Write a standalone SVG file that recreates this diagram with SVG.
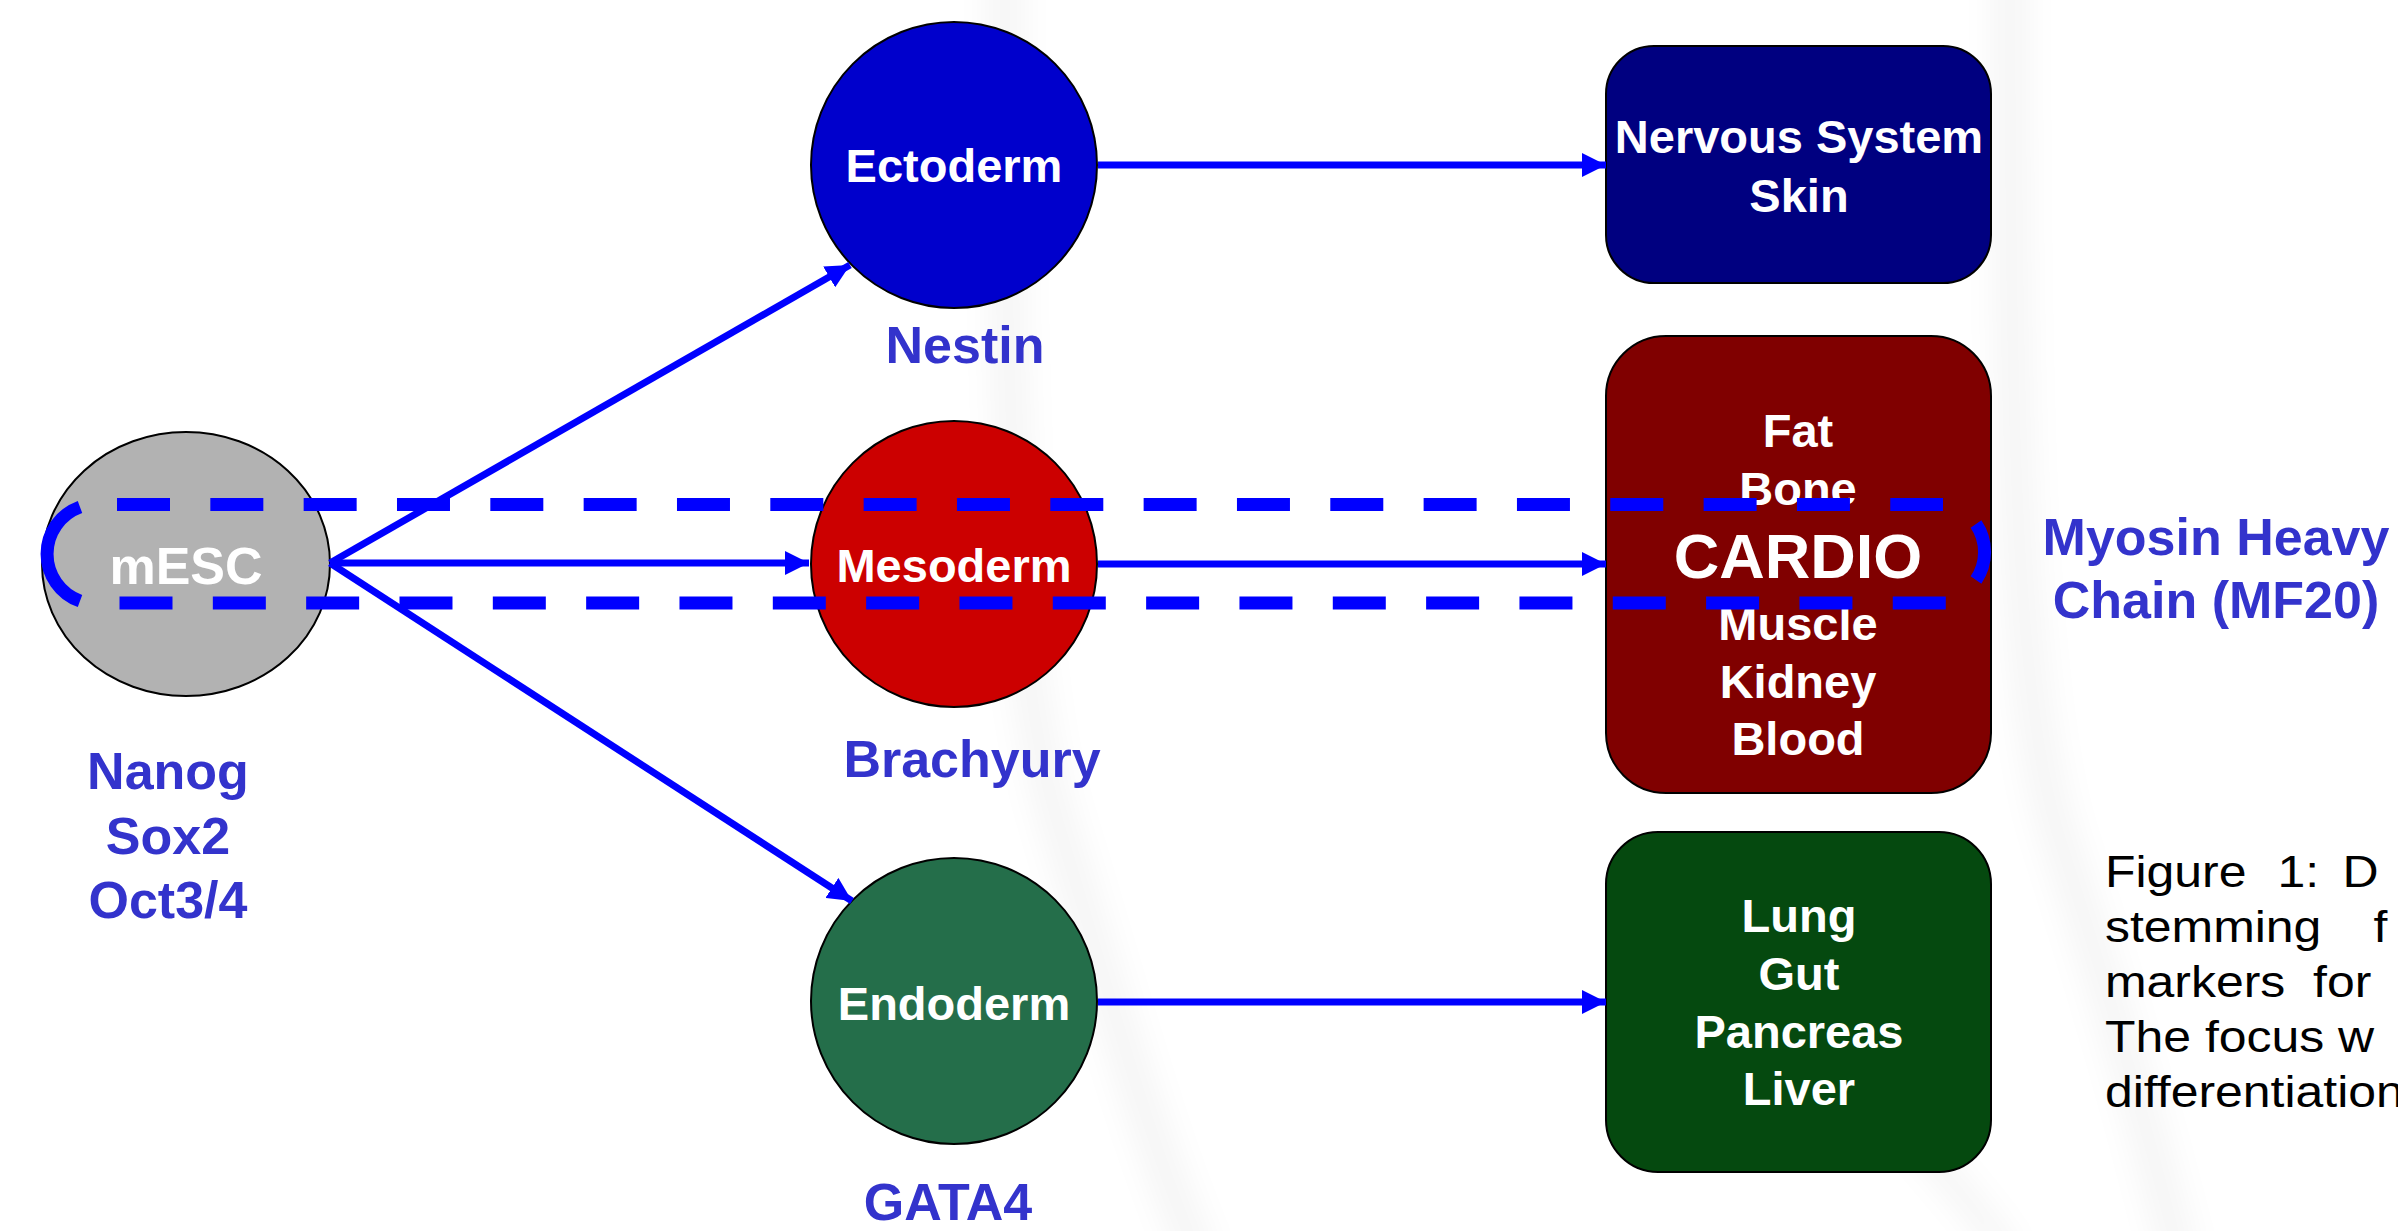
<svg xmlns="http://www.w3.org/2000/svg" width="2398" height="1231" viewBox="0 0 2398 1231">
<style>
  .b { font-family: "Liberation Sans", Arial, sans-serif; font-weight: bold; text-anchor: middle; }
  .w { fill: #FFFFFF; font-size: 47px; }
  .lbl { fill: #3333CC; font-size: 52px; }
  .cap { font-family: "Liberation Sans", Arial, sans-serif; font-size: 44px; fill: #000000; }
  .node { stroke: #000000; stroke-width: 2; }
  .conn { stroke: #0000FF; stroke-width: 7; fill: none; marker-end: url(#arrow); }
  .dash { stroke: #0000FF; stroke-width: 13; fill: none; }
  .band { fill: none; stroke: #000000; stroke-opacity: 0.035; filter: url(#soft); }
</style>
<defs>
  <marker id="arrow" markerUnits="userSpaceOnUse" markerWidth="24" markerHeight="24" refX="24" refY="12" orient="auto">
    <path d="M0,0 L24,12 L0,24 z" fill="#0000FF"/>
  </marker>
  <filter id="soft" x="-50%" y="-10%" width="200%" height="120%">
    <feGaussianBlur stdDeviation="14"/>
  </filter>
</defs>
<rect x="0" y="0" width="2398" height="1231" fill="#FFFFFF"/>
<g id="background">
  <path class="band" stroke-width="40" d="M1005 -20 C1005 500 1020 700 1060 830 S1150 1150 1200 1260"/>
  <path class="band" stroke-width="40" d="M2010 -20 C2010 400 2015 700 2060 840 S2140 1100 2180 1260"/>
  <path class="band" stroke-width="30" d="M1900 1120 C1940 1170 1980 1210 2010 1260"/>
</g>
<g id="nodes">
  <g id="mesc">
    <ellipse class="node" cx="186" cy="564" rx="144" ry="132" fill="#B2B2B2"/>
    <text class="b" x="186" y="584" fill="#FFFFFF" font-size="52">mESC</text>
  </g>
  <g id="ectoderm">
    <circle class="node" cx="954" cy="165" r="143" fill="#0000CC"/>
    <text class="b w" x="954" y="182">Ectoderm</text>
  </g>
  <g id="mesoderm">
    <circle class="node" cx="954" cy="564" r="143" fill="#CC0000"/>
    <text class="b w" x="954" y="582">Mesoderm</text>
  </g>
  <g id="endoderm">
    <circle class="node" cx="954" cy="1001" r="143" fill="#246E4A"/>
    <text class="b w" x="954" y="1020">Endoderm</text>
  </g>
  <g id="nervous">
    <rect class="node" x="1606" y="46" width="385" height="237" rx="48" ry="48" fill="#000080"/>
    <text class="b w" x="1799" y="153">Nervous System</text>
    <text class="b w" x="1799" y="212">Skin</text>
  </g>
  <g id="mesoderm-tissues">
    <rect class="node" x="1606" y="336" width="385" height="457" rx="60" ry="60" fill="#800000"/>
    <text class="b w" x="1798" y="447">Fat</text>
    <text class="b w" x="1798" y="505">Bone</text>
    <text class="b w" x="1798" y="640">Muscle</text>
    <text class="b w" x="1798" y="698">Kidney</text>
    <text class="b w" x="1798" y="755">Blood</text>
  </g>
  <g id="endoderm-tissues">
    <rect class="node" x="1606" y="832" width="385" height="340" rx="52" ry="52" fill="#05490F"/>
    <text class="b w" x="1799" y="932">Lung</text>
    <text class="b w" x="1799" y="990">Gut</text>
    <text class="b w" x="1799" y="1048">Pancreas</text>
    <text class="b w" x="1799" y="1105">Liver</text>
  </g>
</g>
<g id="connectors">
  <path class="conn" d="M330 563 L850 265"/>
  <path class="conn" d="M330 563 L809 563"/>
  <path class="conn" d="M330 563 L852 901"/>
  <path class="conn" d="M1098 165 L1606 165"/>
  <path class="conn" d="M1098 564 L1606 564"/>
  <path class="conn" d="M1098 1002 L1606 1002"/>
</g>
<g id="cardio-highlight">
  <path class="dash" stroke-dasharray="53 40.33" d="M117 504.5 H1943"/>
  <path class="dash" stroke-dasharray="53 40.33" d="M119.5 603 H1946"/>
  <path class="dash" d="M80 507 A50 50 0 0 0 80 601"/>
  <path class="dash" d="M1976 524 A50 50 0 0 1 1976 580"/>
  <text class="b" x="1798" y="578" fill="#FFFFFF" font-size="63">CARDIO</text>
</g>
<g id="markers">
  <text class="b lbl" x="168" y="789">Nanog</text>
  <text class="b lbl" x="168" y="854">Sox2</text>
  <text class="b lbl" x="168" y="918">Oct3/4</text>
  <text class="b lbl" x="965" y="363">Nestin</text>
  <text class="b lbl" x="972" y="777">Brachyury</text>
  <text class="b lbl" x="948" y="1220">GATA4</text>
  <text class="b lbl" x="2216" y="555">Myosin Heavy</text>
  <text class="b lbl" x="2216" y="618">Chain (MF20)</text>
</g>
<g id="caption" transform="translate(2105 0) scale(1.135 1)">
  <text class="cap" y="887"><tspan x="0">Figure</tspan><tspan x="151.9">1:</tspan><tspan x="209.3">D</tspan></text>
  <text class="cap" y="942"><tspan x="0">stemming</tspan><tspan x="236.6">f</tspan></text>
  <text class="cap" y="997"><tspan x="0">markers</tspan><tspan x="183.3">for</tspan></text>
  <text class="cap" x="0" y="1052">The focus w</text>
  <text class="cap" x="0" y="1107">differentiation</text>
</g>
</svg>
